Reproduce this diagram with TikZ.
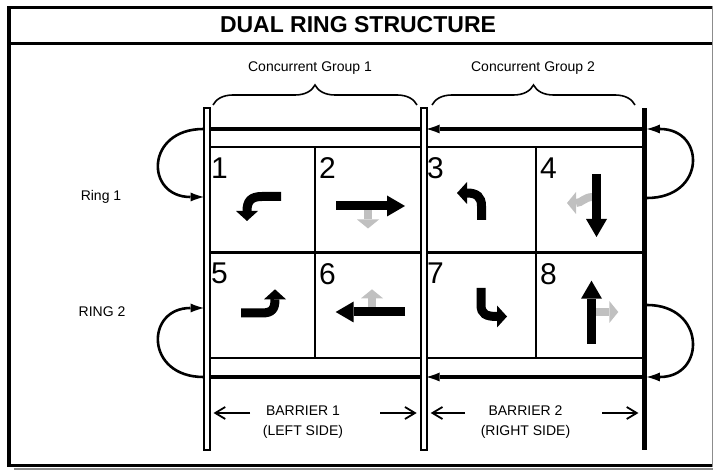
\documentclass[tikz,border=0pt]{standalone}
\usepackage{fontspec}
\setmainfont{Liberation Sans}
\usepackage{tikz}
\usetikzlibrary{positioning,arrows.meta,decorations.pathreplacing}
\definecolor{MoveGray}{RGB}{192,192,192}
\definecolor{EdgeGray}{RGB}{140,140,140}

\begin{document}
\begin{tikzpicture}[x=1pt,y=-1pt,
cell/.style={draw,line width=2.8pt,minimum width=108pt,minimum height=105.5pt,inner sep=0pt,outer sep=0pt},
num/.style={font=\fontsize{30}{30}\selectfont,inner sep=0pt,anchor=north west},
lbl/.style={font=\fontsize{14}{20.5}\selectfont,align=center,inner sep=0pt},
barrier/.style={draw,line width=2pt,fill=white,minimum width=6pt,minimum height=342pt,inner sep=0pt,outer sep=0pt},
solidbar/.style={fill=black,minimum width=4.5pt,minimum height=342pt,inner sep=0pt,outer sep=0pt},
ring/.style={line width=3.2pt},
ringtip/.style={ring,-{Latex[length=13pt,width=9pt,line width=0pt]}},
ringloop/.style={line width=2.6pt,-{Latex[length=13pt,width=9pt,line width=0pt]}},
thru/.style={line width=9pt,-{Triangle[length=18pt,width=21pt,line width=0pt]}},
turn/.style={line width=9pt,-{Triangle[length=10pt,width=22pt,line width=0pt]}},
side/.style={MoveGray,line width=8pt,-{Triangle[length=9pt,width=22pt,line width=0pt]}},
span/.style={line width=1.8pt,shorten >=4pt,-{Straight Barb[length=10pt,width=12pt]}},
grp/.style={line width=1.6pt,decorate,decoration={brace,amplitude=20pt}}
]
\useasboundingbox (0,0) rectangle (713,470);

% frame and title
\draw[line width=3.5pt] (712,7.7) -- (9,7.7) -- (9,465.3) -- (712,465.3);
\draw[EdgeGray,line width=1.5pt] (712.3,6) -- (712.3,467);
\draw[EdgeGray,line width=2.5pt] (14,468.8) -- (713,468.8);
\draw[line width=3.5pt] (9,43.3) -- (712,43.3);
\node[font=\fontsize{23}{23}\selectfont\bfseries] (title) at (358,25) {DUAL RING STRUCTURE};

% phase cells
\node[cell] (c1) at (261,199.75) {};
\node[cell,right=0pt of c1] (c2) {};
\node[cell,right=0pt of c2,minimum width=113pt] (c3) {};
\node[cell,right=0pt of c3] (c4) {};
\node[cell,below=0pt of c1] (c5) {};
\node[cell,below=0pt of c2] (c6) {};
\node[cell,below=0pt of c3,minimum width=113pt] (c7) {};
\node[cell,below=0pt of c4] (c8) {};
\foreach \i in {1,...,8}
  \node[num,xshift=4pt,yshift=-10.5pt] (n\i) at (c\i.north west) {\i};

% movements
\draw[turn] (281,196.5) -- (262,196.5) .. controls (251,196.5) and (247,201) .. (247,221);
\draw[side] (368,205) -- (368,228.5);
\draw[thru] (336,206) -- (405,206);
\draw[turn] (481.5,220) -- (481.5,206) .. controls (481.5,197) and (477,193) .. (457,193);
\draw[side] (593,197) .. controls (584,197) and (582,203) .. (567,203);
\draw[thru] (596.5,174) -- (596.5,237);
\draw[turn] (241,313) -- (262,313) .. controls (272,313) and (275,309) .. (275,289.3);
\draw[side] (372,312) -- (372,289.3);
\draw[thru] (405,312) -- (335.7,312);
\draw[turn] (481,288) -- (481,305) .. controls (481,314) and (486,316.5) .. (507,316.5);
\draw[side] (594,312) -- (618.3,312);
\draw[thru] (591.5,344) -- (591.5,280.7);

% barriers
\node[barrier] (bL) at (206.5,279) {};
\node[barrier] (bM) at (423.7,279) {};
\node[solidbar] (bR) at (644.7,279) {};

% rings
\coordinate (r1) at (0,129);
\coordinate (r2) at (0,377);
\coordinate (l1) at (0,197);
\coordinate (l2) at (0,308);
\coordinate (q1) at (0,198);
\coordinate (q2) at (0,305);
\draw[ringtip] (bR.west |- r1) -- (bM.east |- r1);
\draw[ring] (bM.west |- r1) -- (bL.east |- r1);
\draw[ringtip] (bR.west |- r2) -- (bM.east |- r2);
\draw[ring] (bM.west |- r2) -- (bL.east |- r2);
\draw[ringloop] (bL.west |- r1) .. controls (145,129) and (145,197) .. (bL.west |- l1);
\draw[ringloop] (bR.east |- q1) .. controls (706,198) and (706,129) .. (bR.east |- r1);
\draw[ringloop] (bL.west |- r2) .. controls (145,377) and (145,308) .. (bL.west |- l2);
\draw[ringloop] (bR.east |- q2) .. controls (706,305) and (706,377) .. (bR.east |- r2);
\node[lbl] (ring1) at (101,197) {Ring 1};
\node[lbl] (ring2) at (102,312) {RING 2};

% groups
\node[lbl] (grp1) at (310,68) {Concurrent Group 1};
\node[lbl] (grp2) at (533,68) {Concurrent Group 2};
\draw[grp] (213,105) -- (417,105);
\draw[grp] (432,105) -- (635,105);

% barrier spans
\node[lbl] (bar1) at (303,422) {BARRIER 1\\(LEFT SIDE)};
\node[lbl] (bar2) at (525.5,422) {BARRIER 2\\(RIGHT SIDE)};
\coordinate (s1) at (250,413);
\coordinate (s2) at (380,413);
\coordinate (s3) at (465,413);
\coordinate (s4) at (602,413);
\draw[span] (s1) -- (bL.east |- s1);
\draw[span] (s2) -- (bM.west |- s2);
\draw[span] (s3) -- (bM.east |- s3);
\draw[span] (s4) -- (bR.west |- s4);
\end{tikzpicture}
\end{document}
